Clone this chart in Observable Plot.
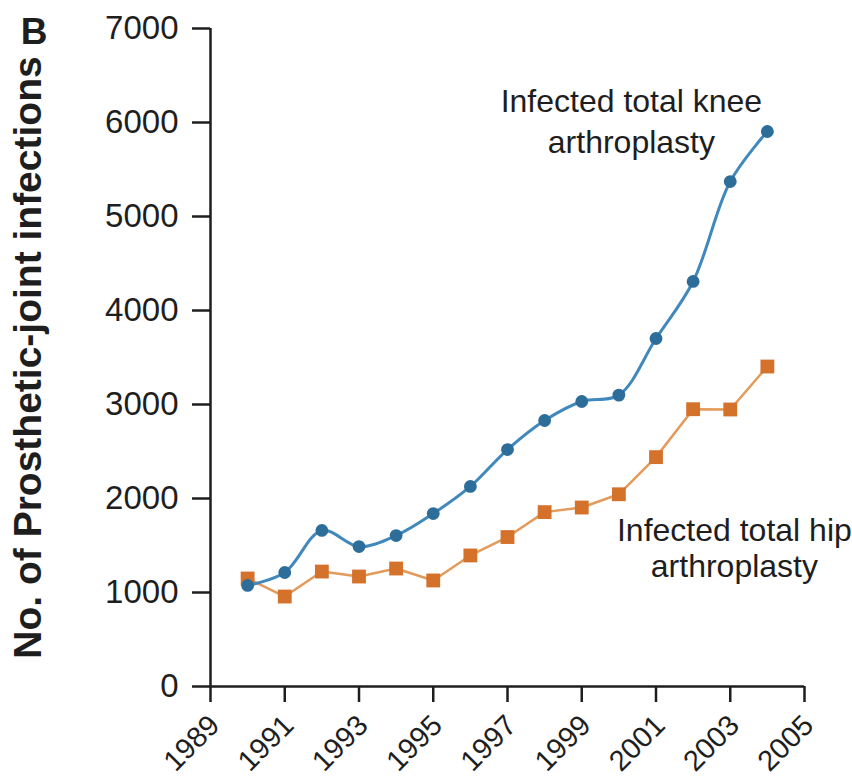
<!DOCTYPE html>
<html><head><meta charset="utf-8">
<script src="https://cdn.jsdelivr.net/npm/d3@7"></script>
<script src="https://cdn.jsdelivr.net/npm/@observablehq/plot@0.6"></script>
<style>body{margin:0;background:#fff;}</style>
</head><body><div id="chart"></div>
<script>
const years = [1990, 1991, 1992, 1993, 1994, 1995, 1996, 1997, 1998, 1999, 2000, 2001, 2002, 2003, 2004];
const kneeValues = [1075, 1213, 1660, 1489, 1606, 1840, 2128, 2521, 2830, 3032, 3100, 3702, 4309, 5372, 5904];
const hipValues = [1149, 957, 1223, 1170, 1255, 1128, 1394, 1590, 1855, 1904, 2045, 2440, 2950, 2947, 3404];
const xTicks = [1989, 1991, 1993, 1995, 1997, 1999, 2001, 2003, 2005];
const yTicks = [0, 1000, 2000, 3000, 4000, 5000, 6000, 7000];
const kneeLabel = "Infected total knee\narthroplasty";
const hipLabel = "Infected total hip\narthroplasty";
const yLabel = "No. of Prosthetic-joint infections";
const panelLabel = "B";

const knee = years.map((year, i) => ({year, value: kneeValues[i]}));
const hip = years.map((year, i) => ({year, value: hipValues[i]}));

const ink = "#1e1e1e";
const plot = Plot.plot({
  width: 852,
  height: 778,
  marginLeft: 210,
  marginRight: 48,
  marginTop: 28,
  marginBottom: 92,
  style: {fontFamily: "'Liberation Sans', Arial, Helvetica, sans-serif", color: ink, background: "#fff"},
  x: {domain: [1989, 2005]},
  y: {domain: [0, 7000]},
  marks: [
    Plot.axisY({ticks: yTicks, tickFormat: d => String(d), tickSize: 18, tickPadding: 14, fontSize: 33, strokeWidth: 2.5, label: null, stroke: ink}),
    Plot.axisX({ticks: xTicks, tickFormat: () => "", tickSize: 16, strokeWidth: 2.5, label: null, stroke: ink}),
    Plot.axisX({ticks: xTicks, tickFormat: d => String(d), tickRotate: -45, tickSize: 0, tickPadding: 34, fontSize: 29, label: null, dx: 4}),
    Plot.ruleX([1989], {stroke: ink, strokeWidth: 2.5}),
    Plot.ruleY([0], {stroke: ink, strokeWidth: 2.5}),
    Plot.line(hip, {x: "year", y: "value", stroke: "#e39a5a", strokeWidth: 2.5}),
    Plot.dot(hip, {x: "year", y: "value", symbol: "square", r: 7.8, fill: "#d4712b"}),
    Plot.line(knee, {x: "year", y: "value", curve: "catmull-rom", stroke: "#4189bc", strokeWidth: 3}),
    Plot.dot(knee, {x: "year", y: "value", r: 6.4, fill: "#2d6d9a"}),
    Plot.text(knee.slice(-1), {x: "year", y: "value", text: () => kneeLabel, dx: -136, dy: -12.6, fontSize: 32, lineHeight: 1.28, textAnchor: "middle", lineAnchor: "middle", fill: ink}),
    Plot.text(hip.slice(-1), {x: "year", y: "value", text: () => hipLabel, dx: -33, dy: 180.6, fontSize: 32, lineHeight: 1.14, textAnchor: "middle", lineAnchor: "middle", fill: ink}),
    Plot.text([yLabel], {frameAnchor: "left", rotate: -90, dx: -182, fontSize: 39, fontWeight: "bold", textAnchor: "middle", lineAnchor: "middle", fill: ink}),
    Plot.text([panelLabel], {frameAnchor: "top-left", dx: -176.5, dy: -11, fontSize: 37, fontWeight: "bold", textAnchor: "middle", lineAnchor: "top", fill: ink})
  ]
});
document.getElementById("chart").append(plot);
</script>
</body></html>
